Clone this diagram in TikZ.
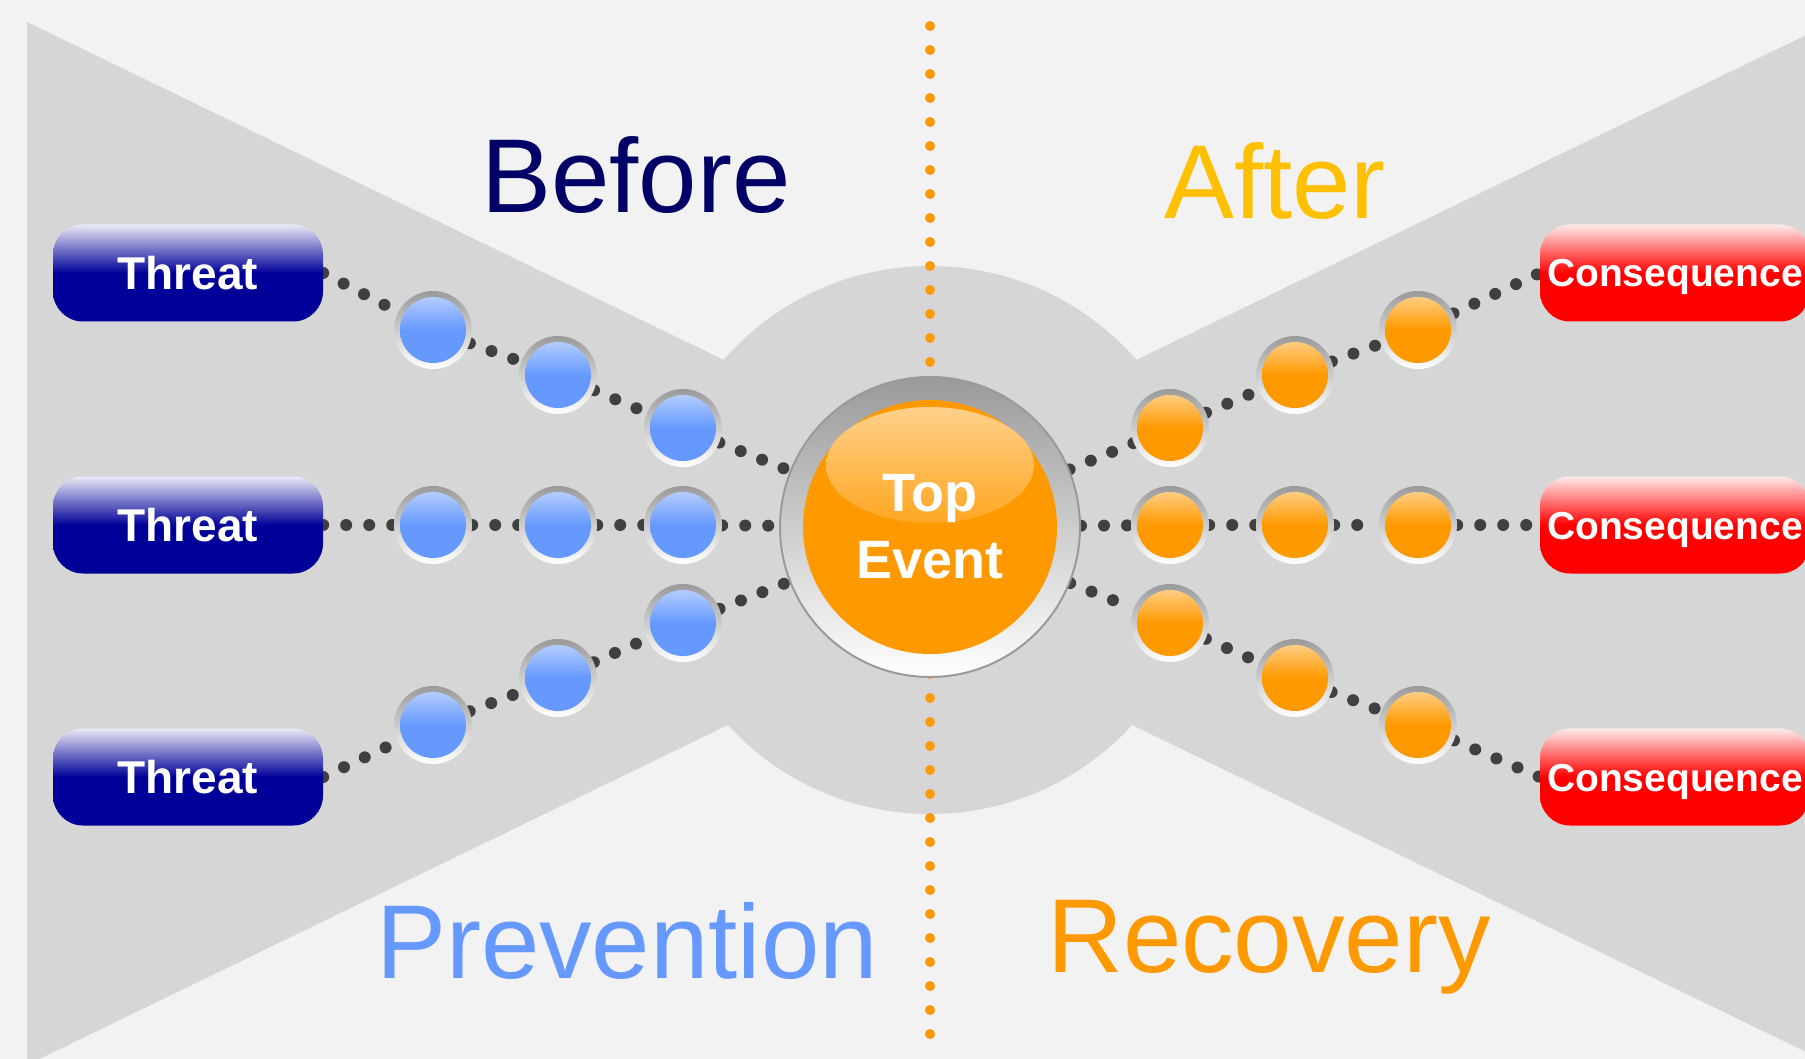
\documentclass[tikz,border=0pt]{standalone}
\usepackage{fontspec}
\setmainfont{Liberation Sans}
\usetikzlibrary{positioning}

\definecolor{bgcol}{HTML}{F2F2F2}
\definecolor{bowcol}{HTML}{D6D6D6}
\definecolor{navyc}{HTML}{000099}
\definecolor{navyt}{HTML}{000066}
\definecolor{redc}{HTML}{FF0000}
\definecolor{blueb}{HTML}{6699FF}
\definecolor{orangeb}{HTML}{FF9900}
\definecolor{orangehi}{HTML}{FFD08A}
\definecolor{goldt}{HTML}{FFC000}
\definecolor{dotgray}{HTML}{404040}
\definecolor{ringgray}{HTML}{9A9A9A}

\pgfdeclarelayer{back}
\pgfdeclarelayer{links}
\pgfsetlayers{back,links,main}

\tikzset{
  box/.style={rounded corners=30pt, minimum width=270pt, minimum height=97pt, inner sep=0pt,
    top color=white!92!#1, bottom color=#1, middle color=#1, text=white, text depth=0pt},
  threat/.style={box=navyc, font=\bfseries\fontsize{46}{50}\selectfont, text height=33pt},
  conseq/.style={box=redc, font=\bfseries\fontsize{39}{44}\selectfont, text height=28pt},
  barrier/.style={circle, minimum size=78pt, inner sep=0pt, top color=ringgray, bottom color=white,
    path picture={\shade[top color=white!60!#1, bottom color=#1, middle color=#1]
      (path picture bounding box.center) circle (33pt);}},
  topev/.style={circle, minimum size=300pt, inner sep=0pt, top color=ringgray, bottom color=white,
    draw=ringgray, line width=2pt, text=white, align=center,
    font=\bfseries\fontsize{54}{67}\selectfont,
    path picture={\fill[orangeb] (path picture bounding box.center) circle (127pt);
      \shade[top color=orangehi, bottom color=orangeb!75!orangehi]
        ([yshift=62pt]path picture bounding box.center) ellipse [x radius=104pt, y radius=58pt];}},
  conn/.style={draw=dotgray, line width=12pt, line cap=round, dash pattern=on 0pt off 23pt},
  divider/.style={draw=orangeb, line width=10pt, line cap=round, dash pattern=on 0pt off 24pt},
  lbl/.style={font=\fontsize{105}{110}\selectfont, inner sep=0pt, anchor=base}
}

\begin{document}
\begin{tikzpicture}[x=1pt,y=-1pt]
  \useasboundingbox (0,0) rectangle (1805,1059);

  % bow tie behind everything
  \begin{pgfonlayer}{back}
    \fill[bgcol] (0,0) rectangle (1805,1059);
    \fill[bowcol] (27,22) -- (930,460) -- (1833,22) -- (1833,1065) -- (930,627) -- (27,1065) -- cycle;
    \fill[bowcol] (930,540) circle (274pt);
    \coordinate (dtop) at (930,26);
    \coordinate (dbot) at (930,1040);
    \draw[divider] (dtop) -- (dbot);
  \end{pgfonlayer}

  \node[lbl, text=navyt]   (before) at (636,213) {Before};
  \node[lbl, text=goldt]   (after)  at (1275,219) {After};
  \node[lbl, text=blueb]   (prev)   at (627,978) {Prevention};
  \node[lbl, text=orangeb] (recov)  at (1269,972) {Recovery};

  \node[threat] (t1) at (188,273) {Threat};
  \node[threat] (t2) at (188,525) {Threat};
  \node[threat] (t3) at (188,777) {Threat};

  \node[conseq] (c1) at (1675,273) {Consequence};
  \node[conseq] (c2) at (1675,525) {Consequence};
  \node[conseq] (c3) at (1675,777) {Consequence};

  \node[topev] (te) at (930,527) {Top\\Event};

  \node[barrier=blueb] (p11) at (433,330) {};
  \node[barrier=blueb] (p12) at (558,375) {};
  \node[barrier=blueb] (p13) at (683,428) {};
  \node[barrier=blueb] (p21) at (433,525) {};
  \node[barrier=blueb] (p22) at (558,525) {};
  \node[barrier=blueb] (p23) at (683,525) {};
  \node[barrier=blueb] (p31) at (433,725) {};
  \node[barrier=blueb] (p32) at (558,678) {};
  \node[barrier=blueb] (p33) at (683,623) {};

  \node[barrier=orangeb] (r11) at (1170,428) {};
  \node[barrier=orangeb] (r12) at (1295,375) {};
  \node[barrier=orangeb] (r13) at (1418,330) {};
  \node[barrier=orangeb] (r21) at (1170,525) {};
  \node[barrier=orangeb] (r22) at (1295,525) {};
  \node[barrier=orangeb] (r23) at (1418,525) {};
  \node[barrier=orangeb] (r31) at (1170,623) {};
  \node[barrier=orangeb] (r32) at (1295,678) {};
  \node[barrier=orangeb] (r33) at (1418,725) {};

  % dotted paths, under the nodes
  \begin{pgfonlayer}{links}
    \path[conn]
      (t1.east) edge (p11) (p11) edge (p12) (p12) edge (p13) (p13) edge (te)
      (t2.east) edge (p21) (p21) edge (p22) (p22) edge (p23) (p23) edge (te)
      (t3.east) edge (p31) (p31) edge (p32) (p32) edge (p33) (p33) edge (te)
      (te) edge (r11) (r11) edge (r12) (r12) edge (r13) (r13) edge (c1.west)
      (te) edge (r21) (r21) edge (r22) (r22) edge (r23) (r23) edge (c2.west)
      (te) edge (r31) (r31) edge (r32) (r32) edge (r33) (r33) edge (c3.west);
  \end{pgfonlayer}
\end{tikzpicture}
\end{document}
